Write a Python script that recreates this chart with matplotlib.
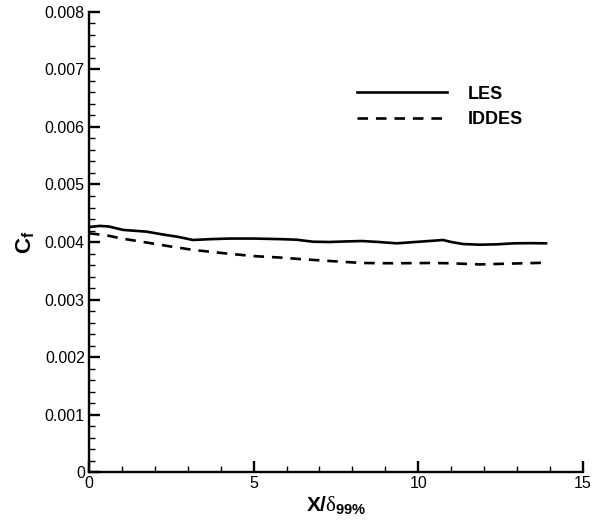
import matplotlib
matplotlib.use("Agg")
import matplotlib.pyplot as plt
from matplotlib.ticker import MultipleLocator, FormatStrFormatter

# Skin friction along the plate
x_les = [0.0, 0.33, 0.6, 1.04, 1.75, 2.25, 2.7, 3.16, 3.7, 4.28, 5.0, 5.8, 6.3, 6.8, 7.3,
         7.8, 8.3, 8.8, 9.35, 9.9, 10.4, 10.75, 11.0, 11.36, 11.87, 12.4, 12.9, 13.4, 13.88]
cf_les = [0.00426, 0.00428, 0.00427, 0.00421, 0.00418, 0.00413, 0.00409, 0.004035, 0.00405,
          0.00406, 0.00406, 0.00405, 0.00404, 0.004005, 0.0040,
          0.00401, 0.004017, 0.00400, 0.003977, 0.00400, 0.00402, 0.004035, 0.00400,
          0.003965, 0.003953, 0.00396, 0.003977, 0.00398, 0.003977]

x_iddes = [0.0, 0.5, 1.0, 1.76, 2.5, 3.2, 4.18, 5.0, 5.8, 6.5, 7.3, 8.3, 9.3, 10.35,
           11.0, 11.87, 12.5, 13.2, 13.88]
cf_iddes = [0.00415, 0.00412, 0.00406, 0.00399, 0.00392, 0.00386, 0.00380, 0.003755,
            0.00373, 0.00370, 0.00367, 0.003635, 0.00363, 0.003635, 0.00363, 0.00361,
            0.00362, 0.00363, 0.00364]

plt.rcParams['font.family'] = ['Liberation Sans', 'DejaVu Sans']
plt.rcParams['mathtext.fontset'] = 'custom'
plt.rcParams['mathtext.rm'] = 'Liberation Serif'
plt.rcParams['mathtext.it'] = 'Liberation Serif:italic'
plt.rcParams['mathtext.bf'] = 'Liberation Sans:bold'

fig = plt.figure(figsize=(5.93, 5.21), dpi=100)
ax = fig.add_axes([0.150, 0.094, 0.833, 0.883])

ax.plot(x_les, cf_les, color='black', lw=1.9, label='LES')
ax.plot(x_iddes, cf_iddes, color='black', lw=1.9, dashes=(4, 3), label='IDDES')

ax.set_xlim(0, 15)
ax.set_ylim(0, 0.008)
ax.xaxis.set_major_locator(MultipleLocator(5))
ax.xaxis.set_minor_locator(MultipleLocator(1))
ax.yaxis.set_major_locator(MultipleLocator(0.001))
ax.yaxis.set_minor_locator(MultipleLocator(0.0002))
ax.yaxis.set_major_formatter(FormatStrFormatter('%g'))
ax.xaxis.set_major_formatter(FormatStrFormatter('%g'))

for side in ['top', 'right']:
    ax.spines[side].set_visible(False)
for side in ['left', 'bottom']:
    ax.spines[side].set_linewidth(1.7)

ax.tick_params(which='major', direction='in', length=8, width=1.7, labelsize=11.5, pad=3)
ax.tick_params(which='minor', direction='in', length=4.5, width=1.0)
ax.tick_params(axis='y', which='both', left=True, right=False)
ax.tick_params(axis='x', which='both', bottom=True, top=False)

ax.set_xlabel(r'$\mathbf{X/}\mathrm{\delta}_{\mathbf{99\%}}$', fontsize=15, labelpad=2)
ax.set_ylabel(r'$\mathbf{C}_{\mathbf{f}}$', fontsize=16, labelpad=6)

leg = ax.legend(loc='upper left', bbox_to_anchor=(0.51, 0.875), frameon=False,
                handlelength=5.0, handletextpad=1.1, labelspacing=0.45,
                prop={'weight': 'bold', 'size': 13})

fig.savefig('out.png', dpi=100)
